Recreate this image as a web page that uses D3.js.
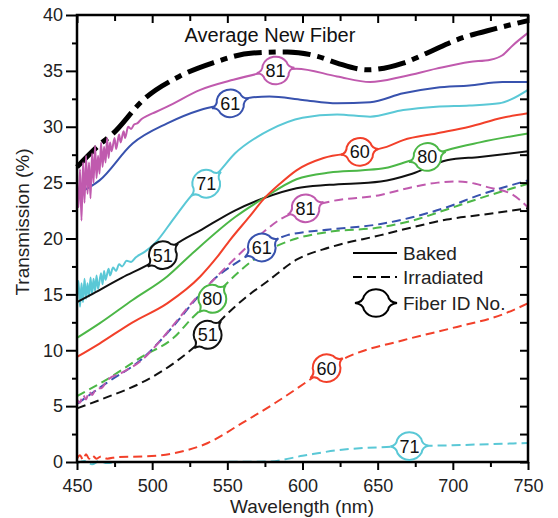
<!DOCTYPE html>
<html>
<head>
<meta charset="utf-8">
<script src="https://cdn.jsdelivr.net/npm/d3@7"></script>
<style>
  body { margin: 0; background: #fff; }
  text { font-family: "Liberation Sans", Arial, sans-serif; }
</style>
</head>
<body>
<script>
var width = 558;
var height = 518;

// wavelength (nm) / transmission (%) pairs
var avgNew = [[450,26.4],[465,28.4],[474,29.4],[494,32.4],[518,34.5],[540,35.7],[567,36.6],[590,36.7],
  [610,36.3],[623,35.7],[643,35.1],[667,35.7],[683,36.6],[703,37.8],[729,38.8],[750,39.5]];

var baked81 = [[450,25],[451,22.8],[452,26.2],[453,21.6],[454,26.8],[455,23.2],[456,27.4],[457,24],
  [458,26.8],[459,23.6],[460,27.6],[461,25],[462,28.3],[463,25.4],[464,27.4],[465,25.8],[466,28.6],
  [467,26.4],[468,28.2],[469,26.8],[470,29],[471,27.2],[472,28.6],[473,27.8],[475,29],[476,28],
  [478,29.3],[479,28.6],[481,29.6],[482,29],[484,30],[486,29.8],[488,30.2],[490,30.3],[493,30.7],
  [497,31.0],[502,31.3],[510,31.8],[532,33.3],[554,34.2],[576,34.9],[596,35.2],[623,34.5],[645,34],
  [667,34.5],[689,35.2],[711,35.8],[725,36.0],[733,36.4],[740,37.3],[750,38.4]];
var baked61 = [[450,24.0],[465,25.2],[487,28.5],[510,30.3],[532,31.5],[552,32.1],[565,32.6],[578,32.7],
  [600,32.4],[623,32.1],[645,32.2],[667,33],[689,33.5],[711,33.7],[733,34],[750,34]];
var baked71 = [[450,14.8],[451,16.2],[452,13.9],[453,16],[454,14.3],[455,16.4],[456,14.6],[457,16],
  [458,14.8],[459,16.5],[460,15],[461,16.4],[462,15.3],[463,16.7],[464,15.5],[466,16.9],[467,15.9],
  [468,17.1],[469,16.3],[471,17.3],[472,16.7],[474,17.4],[476,17.1],[478,17.7],[480,17.5],[483,18],
  [486,17.9],[489,18.3],[495,18.8],[502,19.6],[515,21.9],[528,24.1],[535,24.8],[544,25.9],
  [555,27.6],[570,29.1],[578,29.7],[600,30.8],[623,31.1],[645,30.9],[667,31.5],[689,31.8],[711,31.9],
  [731,32.1],[738,32.4],[750,33.3]];
var baked60 = [[450,9.4],[465,10.6],[487,12.5],[510,14.2],[532,16.6],[543,18.3],[552,19.9],[565,22.0],
  [574,23.5],[585,24.9],[596,26.1],[614,27.2],[636,27.7],[656,28.2],[667,28.8],[689,29.4],[711,30],
  [733,30.8],[750,31.2]];
var baked80 = [[450,11.1],[465,12.4],[487,14.5],[510,16.6],[527,18.7],[555,21.9],[574,23.6],[596,25.3],
  [618,25.9],[640,26.1],[655,26.3],[673,27],[683,27.3],[696,27.9],[718,28.6],[750,29.4]];
var baked51 = [[450,14.3],[461,15.1],[480,16.5],[499,17.8],[507,18.5],[515,19.4],[533,20.8],[555,22.5],
  [574,23.6],[596,24.5],[618,24.8],[652,25.1],[673,25.8],[696,27],[718,27.3],[750,27.8]];

var irr81 = [[450,5.6],[452,5.3],[454,6.0],[456,5.6],[458,6.3],[460,6.0],[463,6.6],[466,6.6],[470,7.3],
  [480,8.0],[493,9.1],[505,10.8],[515,12.4],[528,14.5],[540,16.2],[552,17.8],[570,20.1],[585,21.7],
  [598,22.5],[618,23.3],[652,23.9],[673,24.6],[690,25],[703,25.1],[715,24.9],[723,24.6],[740,23.9],[750,22.8]];
var irr61 = [[450,5.2],[470,7.1],[493,9.2],[515,12.3],[528,14.4],[540,16.2],[558,18.0],[573,19.2],
  [590,20.3],[618,20.8],[652,21.3],[673,21.9],[696,22.8],[718,23.9],[750,25.2]];
var irr80 = [[450,5.9],[470,7.4],[493,9.4],[515,11.2],[526,12.8],[540,14.6],[552,16.3],[574,18.7],
  [596,20],[618,20.6],[652,21],[673,21.6],[696,22.6],[718,23.6],[750,24.9]];
var irr51 = [[450,4.8],[470,5.8],[493,7.1],[515,8.9],[537,11.4],[548,13],[562,14.7],[577,16.2],
  [596,18.1],[618,19.2],[652,20.3],[673,21],[696,21.7],[718,22.1],[750,22.7]];
var irr60 = [[450,0.3],[452,0.6],[454,0.2],[456,0.7],[458,0.3],[460,0.6],[463,0.3],[466,0.5],[470,0.3],
  [477,0.45],[495,0.5],[515,0.8],[537,1.7],[560,3.5],[582,5.3],[602,7.1],[616,8.4],[630,9.4],[667,10.9],
  [700,12],[733,13.2],[750,14.2]];
var irr71 = [[450,-0.1],[455,0.1],[460,-0.2],[465,0.1],[470,-0.1],[480,0],[520,0],[560,0.02],[578,0.05],
  [600,0.55],[623,1.05],[656,1.35],[700,1.5],[750,1.7]];

var xTicks = [450, 500, 550, 600, 650, 700, 750];
var yTicks = [0, 5, 10, 15, 20, 25, 30, 35, 40];
var xMinor = [475, 525, 575, 625, 675, 725];
var yMinor = [2.5, 7.5, 12.5, 17.5, 22.5, 27.5, 32.5, 37.5];

var colors = { c51: "#111", c60: "#f2402a", c61: "#3852ae", c71: "#5ac8d6", c80: "#4cb747", c81: "#c05aae" };

var series = [
  { id: "b71", data: baked71, color: colors.c71, dash: null },
  { id: "b61", data: baked61, color: colors.c61, dash: null },
  { id: "b81", data: baked81, color: colors.c81, dash: null },
  { id: "b51", data: baked51, color: colors.c51, dash: null },
  { id: "b80", data: baked80, color: colors.c80, dash: null },
  { id: "b60", data: baked60, color: colors.c60, dash: null },
  { id: "i51", data: irr51, color: colors.c51, dash: "9,5" },
  { id: "i80", data: irr80, color: colors.c80, dash: "9,5" },
  { id: "i61", data: irr61, color: colors.c61, dash: "9,5" },
  { id: "i81", data: irr81, color: colors.c81, dash: "9,5" },
  { id: "i60", data: irr60, color: colors.c60, dash: "9,5" },
  { id: "i71", data: irr71, color: colors.c71, dash: "9,5" }
];

// fiber id bubbles: series, wavelength, text
var labels = [
  ["b81", 582, "81"], ["b61", 552, "61"], ["b71", 536, "71"], ["b51", 507, "51"],
  ["b60", 638, "60"], ["b80", 683, "80"], ["i81", 602, "81"], ["i61", 573, "61"],
  ["i80", 540, "80"], ["i51", 537, "51"], ["i60", 616, "60"], ["i71", 671, "71"]
];

var x = d3.scaleLinear().domain([450, 750]).range([77, 528]);
var y = d3.scaleLinear().domain([0, 40]).range([462, 15]);

var svg = d3.select("body").append("svg")
  .attr("width", width)
  .attr("height", height);

var line = d3.line()
  .x(function (d) { return x(d[0]); })
  .y(function (d) { return y(d[1]); })
  .curve(d3.curveMonotoneX);

// average new fiber
svg.append("path")
  .attr("d", line(avgNew))
  .attr("fill", "none")
  .attr("stroke", "#000")
  .attr("stroke-width", 5)
  .attr("stroke-dasharray", "28,7,7,7");

var paths = {};
series.forEach(function (s) {
  paths[s.id] = svg.append("path")
    .attr("d", line(s.data))
    .attr("fill", "none")
    .attr("stroke", s.color)
    .attr("stroke-width", 2)
    .attr("stroke-dasharray", s.dash);
});

// axes
function tickAxis(axis, transform, vals, size, pad, labelsOn) {
  var g = svg.append("g")
    .attr("transform", transform)
    .call(axis.tickValues(vals).tickSize(size).tickPadding(pad)
      .tickFormat(labelsOn ? d3.format("d") : ""));
  g.select(".domain").remove();
  g.selectAll("line").attr("stroke", "#000").attr("stroke-width", 2);
  g.selectAll("text").style("font-size", "18px").attr("fill", "#222");
  return g;
}
tickAxis(d3.axisBottom(x), "translate(0,462)", xTicks, 8, 9, true);
tickAxis(d3.axisBottom(x), "translate(0,462)", xMinor, 5, 0, false);
tickAxis(d3.axisTop(x), "translate(0,15)", xTicks, -8, 0, false);
tickAxis(d3.axisTop(x), "translate(0,15)", xMinor, -6, 0, false);
tickAxis(d3.axisLeft(y), "translate(77,0)", yTicks, 11, 3, true);
tickAxis(d3.axisLeft(y), "translate(77,0)", yMinor, 5, 0, false);
tickAxis(d3.axisRight(y), "translate(528,0)", yTicks, -8, 0, false);
tickAxis(d3.axisRight(y), "translate(528,0)", yMinor, -8, 0, false);

svg.append("rect")
  .attr("x", 77).attr("y", 15)
  .attr("width", 451).attr("height", 447)
  .attr("fill", "none")
  .attr("stroke", "#000")
  .attr("stroke-width", 2.5);

svg.append("text")
  .attr("x", 302).attr("y", 513)
  .attr("text-anchor", "middle")
  .style("font-size", "19px")
  .attr("fill", "#222")
  .text("Wavelength (nm)");

svg.append("text")
  .attr("transform", "translate(29,222) rotate(-90)")
  .attr("text-anchor", "middle")
  .style("font-size", "19px")
  .attr("fill", "#222")
  .text("Transmission (%)");

svg.append("text")
  .attr("x", 270).attr("y", 42)
  .attr("text-anchor", "middle")
  .style("font-size", "20px")
  .attr("fill", "#111")
  .text("Average New Fiber");

// bubble outline with pointed ends
function bubble(w) {
  return "M" + (-w) + ",0 Q-13,-1 -12,-7 A14,14 0 0 1 12,-7 Q13,-1 " + w + ",0" +
    " Q13,1 12,7 A14,14 0 0 1 -12,7 Q-13,1 " + (-w) + ",0 Z";
}

labels.forEach(function (l) {
  var s = series.filter(function (d) { return d.id == l[0]; })[0];
  var node = paths[l[0]].node();
  var total = node.getTotalLength();
  var tx = x(l[1]);
  var best = 0, bd = 1e9;
  for (var k = 0; k <= total; k += 0.5) {
    var p = node.getPointAtLength(k);
    if (Math.abs(p.x - tx) < bd) { bd = Math.abs(p.x - tx); best = k; }
  }
  var c = node.getPointAtLength(best);
  var p0 = node.getPointAtLength(Math.max(0, best - 6));
  var p1 = node.getPointAtLength(Math.min(total, best + 6));
  var ang = Math.atan2(p1.y - p0.y, p1.x - p0.x) * 180 / Math.PI;
  var g = svg.append("g").attr("transform", "translate(" + c.x + "," + c.y + ")");
  g.append("path")
    .attr("d", bubble(19))
    .attr("transform", "rotate(" + ang + ")")
    .attr("fill", "#fff")
    .attr("stroke", s.color)
    .attr("stroke-width", 2);
  g.append("text")
    .attr("text-anchor", "middle")
    .attr("dy", "0.36em")
    .style("font-size", "18px")
    .attr("fill", "#111")
    .text(l[2]);
});

// legend
var legend = svg.append("g");
legend.append("line")
  .attr("x1", 353).attr("x2", 397).attr("y1", 253).attr("y2", 253)
  .attr("stroke", "#000").attr("stroke-width", 2);
legend.append("line")
  .attr("x1", 353).attr("x2", 397).attr("y1", 277).attr("y2", 277)
  .attr("stroke", "#000").attr("stroke-width", 2).attr("stroke-dasharray", "9,5");
legend.append("path")
  .attr("d", bubble(21))
  .attr("transform", "translate(376,303)")
  .attr("fill", "#fff").attr("stroke", "#000").attr("stroke-width", 2);
legend.selectAll(".lt")
  .data([["Baked", 253], ["Irradiated", 277], ["Fiber ID No.", 303]])
  .enter().append("text")
  .attr("x", 403)
  .attr("y", function (d) { return d[1]; })
  .attr("dy", "0.36em")
  .style("font-size", "19px")
  .attr("fill", "#222")
  .text(function (d) { return d[0]; });
</script>
</body>
</html>
